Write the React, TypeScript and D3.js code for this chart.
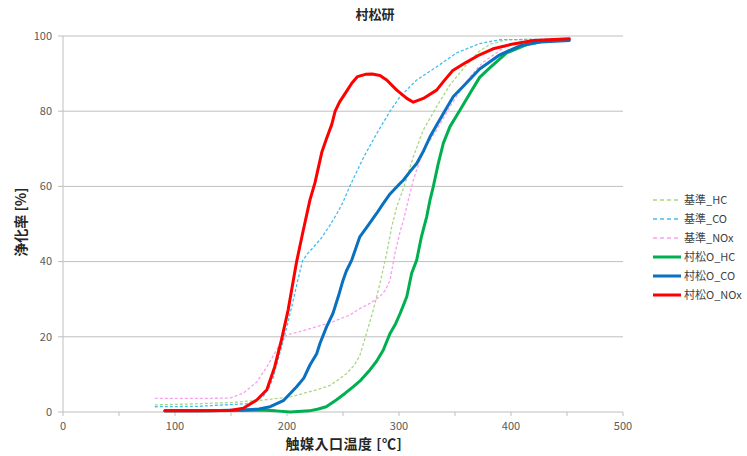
import React from "react";
import * as d3 from "d3";

type Pt = [number, number];

const title = "村松研";
const xTitle = "触媒入口温度 [℃]";
const yTitle = "浄化率 [%]";
const xTicks = [0, 100, 200, 300, 400, 500];
const xMinorTicks = [0, 50, 100, 150, 200, 250, 300, 350, 400, 450, 500];
const yTicks = [0, 20, 40, 60, 80, 100];

const refHC: Pt[] = [[82,1.9],[110,2.1],[149,2.5],[179,3.2],[203,4],[226.5,5.9],[238,7],[246,8.6],[253,10.2],[260,12.4],[265,15],[271,20.9],[277,27.1],[283,34.2],[289,42.2],[293.5,49.3],[298,54.6],[304,59.5],[312.8,67.9],[321.7,75],[333.6,81.2],[345.5,87],[363.4,93.5],[372,96],[381,97.8],[396,99],[452,99.2]];
const refCO: Pt[] = [[82,1.4],[120,1.5],[164,2.2],[172,3],[179,4.2],[184,6.5],[188,9.4],[192,14],[196.7,19],[201,24],[205.6,29.8],[210,35.5],[214,40.3],[218,42],[223.5,43.8],[230,46],[238,49.5],[245,53],[250,55.8],[256,60],[268,67.5],[280,74],[292,80],[301,83.9],[315.8,88.3],[333.6,91.8],[351.5,95.5],[372,98],[390,99],[452,99.2]];
const refNOx: Pt[] = [[82,3.6],[120,3.6],[149,3.7],[161,5],[173,8],[182,12],[190.8,16.5],[196,19.5],[200,20.5],[211.6,21.4],[226.5,22.7],[241,24],[256,25.8],[265,27.5],[274,28.9],[283,30.7],[288,32.5],[292,35.1],[296.4,42.2],[301,48],[304,51],[308,56],[312.8,61.7],[321.7,69.7],[333.6,75],[345.5,81.2],[357,86.5],[365,89.7],[375,93],[396,97.4],[414,98.6],[452,99.2]];
const muraHC: Pt[] = [[91,0.3],[150,0.4],[176,0.5],[190,0.3],[203,0],[220,0.3],[228,0.8],[235,1.4],[244,3.2],[252,5],[259,6.7],[266,8.5],[274,11.2],[280,13.5],[286,16.5],[292,20.9],[297,23.5],[301,26.2],[307,30.7],[311.3,36.9],[315.8,40.4],[320,46.6],[324.7,51.9],[327.7,56.4],[330.6,59.9],[335,66],[339.6,71.5],[345.5,75.9],[354.5,80.3],[363.4,84.8],[372,89],[381,91.5],[396,95.5],[414,97.7],[432,98.8],[452,99]];
const muraCO: Pt[] = [[91,0.3],[130,0.3],[160,0.5],[175,0.8],[185,1.4],[196.7,3],[208.6,6.7],[215,9],[220.5,12.5],[226.5,15.5],[229.5,18.3],[235.4,22.7],[241,26.2],[245.8,30.7],[250,35],[253,37.5],[257.8,40.4],[265,46.6],[272.6,49.7],[280,52.8],[286,55.5],[292,58],[300,60.5],[304,61.7],[310,64],[315.8,66.1],[322,69.5],[327.7,73.2],[333,76],[339.6,79.4],[348.5,83.9],[357,86.5],[372,91.2],[390,95],[408,97.4],[426,98.4],[452,98.8]];
const muraNOx: Pt[] = [[91,0.3],[120,0.3],[149,0.4],[161,1],[173,3.2],[182,5.9],[189,12],[195,19.1],[201,27.1],[208.6,40],[214,47.6],[220.5,56.4],[225,61],[231,69],[235.4,72.8],[240,76.5],[243,80],[247,82.5],[253,85.2],[258,87.5],[263,89.2],[270,89.8],[276,89.9],[283,89.5],[289,88.3],[298,85.6],[307,83.4],[312.8,82.4],[321.7,83.4],[333.6,85.6],[340,88],[348,90.8],[360,93],[372,95],[384,96.6],[402,97.9],[420,98.8],[452,99.3]];

const seriesNames = ["基準_HC", "基準_CO", "基準_NOx", "村松O_HC", "村松O_CO", "村松O_NOx"];
const seriesData = [refHC, refCO, refNOx, muraHC, muraCO, muraNOx];
const seriesColors = ["#a9d884", "#45bdf0", "#f7a0f0", "#00b050", "#0a70c0", "#ff0000"];
const seriesDashed = [true, true, true, false, false, false];

const FONT = "'Noto Sans CJK JP', 'Noto Sans', sans-serif";

export default function App() {
  const W = 747, H = 456;
  const x = d3.scaleLinear().domain([0, 500]).range([63, 623]);
  const y = d3.scaleLinear().domain([0, 100]).range([412, 36]);
  const line = d3.line<Pt>().x(d => x(d[0])).y(d => y(d[1])).curve(d3.curveLinear);

  return (
    <svg width={W} height={H} style={{ position: "fixed", left: 0, top: 0, background: "#fff" }} fontFamily={FONT}>
      <rect x={0} y={0} width={W} height={H} fill="#fff" />
      {yTicks.filter(t => t > 0).map(t => (
        <line key={"g" + t} x1={x(0)} x2={x(500)} y1={y(t)} y2={y(t)} stroke="#bfbfbf" strokeWidth={1} />
      ))}
      <line x1={x(0)} x2={x(0)} y1={y(0)} y2={y(100)} stroke="#bfbfbf" strokeWidth={1} />
      {yTicks.map(t => (
        <g key={"yt" + t}>
          <line x1={x(0) - 5} x2={x(0)} y1={y(t)} y2={y(t)} stroke="#bfbfbf" />
          <text x={52} y={y(t)} dy="0.35em" textAnchor="end" fontSize={11} fill="#595959">{t}</text>
        </g>
      ))}
      <line x1={x(0)} x2={x(500)} y1={y(0)} y2={y(0)} stroke="#bfbfbf" strokeWidth={1} />
      {xMinorTicks.map(t => (
        <line key={"xm" + t} x1={x(t)} x2={x(t)} y1={y(0)} y2={y(0) + 4} stroke="#bfbfbf" />
      ))}
      {xTicks.map(t => (
        <text key={"xt" + t} x={x(t)} y={426} dy="0.35em" textAnchor="middle" fontSize={11} fill="#595959">{t}</text>
      ))}
      {seriesData.map((d, i) => (
        <path key={"s" + i} d={line(d) || ""} fill="none" stroke={seriesColors[i]}
          strokeWidth={seriesDashed[i] ? 1.3 : 3} strokeDasharray={seriesDashed[i] ? "3,2" : undefined}
          strokeLinejoin="round" strokeLinecap={seriesDashed[i] ? "butt" : "round"} />
      ))}
      <text x={375} y={14} dy="0.35em" textAnchor="middle" fontSize={13} fontWeight="bold" fill="#262626">{title}</text>
      <text x={344} y={444} dy="0.35em" textAnchor="middle" fontSize={14} fontWeight="bold" fill="#262626" letterSpacing={0.5}>{xTitle}</text>
      <text transform={`translate(21,222) rotate(-90)`} dy="0.35em" textAnchor="middle" fontSize={14} fontWeight="bold" fill="#262626">{yTitle}</text>
      {seriesNames.map((n, i) => {
        const ly = 200 + i * 19;
        return (
          <g key={"l" + i}>
            <line x1={653} x2={681} y1={ly} y2={ly} stroke={seriesColors[i]}
              strokeWidth={seriesDashed[i] ? 1.3 : 3} strokeDasharray={seriesDashed[i] ? "4,3" : undefined} />
            <text x={684} y={ly} dy="0.35em" fontSize={11} fill="#404040">{n}</text>
          </g>
        );
      })}
    </svg>
  );
}
